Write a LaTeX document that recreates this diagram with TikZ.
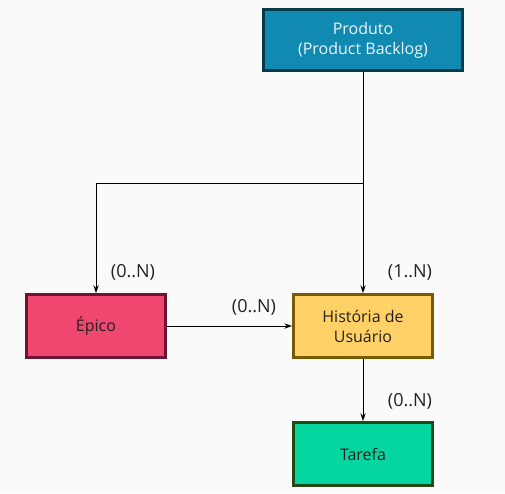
\documentclass[tikz,border=0pt]{standalone}
\usepackage{fontspec}
\setmainfont{Open Sans}
\usepackage{xcolor}
\usepackage{tikz}
\usetikzlibrary{positioning,arrows.meta}

\definecolor{bgcol}{HTML}{FAFAFA}
\definecolor{prodfill}{HTML}{118AB2}
\definecolor{proddraw}{HTML}{073B4C}
\definecolor{epicfill}{HTML}{EF476F}
\definecolor{epicdraw}{HTML}{6E1433}
\definecolor{histfill}{HTML}{FFD166}
\definecolor{histdraw}{HTML}{7A5A00}
\definecolor{taskfill}{HTML}{06D6A0}
\definecolor{taskdraw}{HTML}{224A14}
\definecolor{txtcol}{HTML}{222222}

\begin{document}
\begin{tikzpicture}[x=0.75pt,y=-0.75pt,
    entity/.style={draw,line width=2.2pt,minimum width=104pt,minimum height=47pt,
      align=center,font=\fontsize{12}{15}\selectfont,text=txtcol},
    card/.style={font=\fontsize{13.5}{16}\selectfont,text=txtcol},
    link/.style={-{Stealth[length=6pt,width=4pt]},line width=0.75pt,black}]
  % canvas
  \fill[bgcol] (0,0) rectangle (505,493);
  \useasboundingbox (0,0) rectangle (505,493);
  % entities
  \node[entity,fill=prodfill,draw=proddraw,text=white!92!prodfill,minimum width=149pt,minimum height=46pt]
    (produto) at (363,40) {Produto\\(Product Backlog)};
  \node[entity,fill=epicfill,draw=epicdraw] (epico) at (96,326) {Épico};
  \node[entity,fill=histfill,draw=histdraw] (historia) at (363,326) {História de\\Usuário};
  \node[entity,fill=taskfill,draw=taskdraw] (tarefa) at (363,454) {Tarefa};
  % branch point under the backlog
  \coordinate (branch) at (363,183);
  % connectors
  \draw[line width=0.75pt] (produto.south) -- (branch);
  \draw[link] (branch) -| (epico.north);
  \draw[link] (branch) -- (historia.north);
  \draw[link] (epico.east) -- (historia.west);
  \draw[link] (historia.south) -- (tarefa.north);
  % cardinalities
  \node[card] (cepico) at (133,272) {(0..N)};
  \node[card] (chist) at (410,272) {(1..N)};
  \node[card] (cep2hist) at (254,307) {(0..N)};
  \node[card] (ctarefa) at (410,401) {(0..N)};
\end{tikzpicture}
\end{document}
